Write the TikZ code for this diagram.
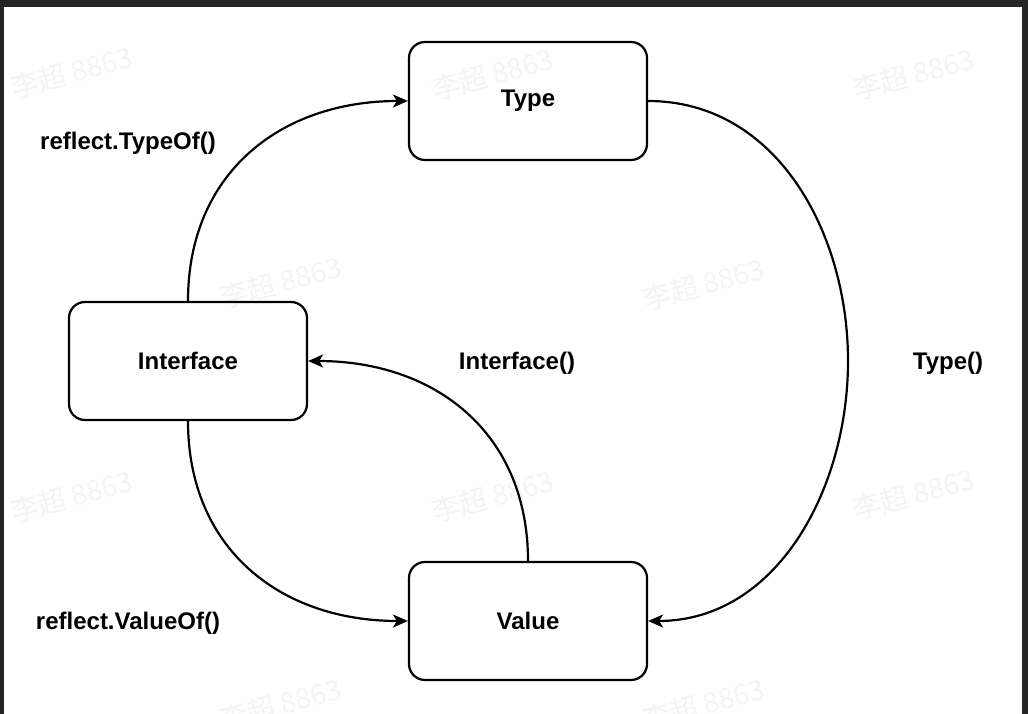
\documentclass[tikz,border=0pt]{standalone}
\usepackage{fontspec}
\setmainfont{Liberation Sans}
\newfontfamily\cjk{Noto Sans CJK SC}
\usepackage{tikz}
\usetikzlibrary{arrows.meta}

\definecolor{frame}{HTML}{252525}
\definecolor{wmgray}{HTML}{F4F4F4}

\begin{document}
\begin{tikzpicture}[x=1pt,y=-1pt,
  box/.style = {draw, line width=2.2pt, rounded corners=16pt, minimum width=238pt, minimum height=118pt, font=\fontsize{24}{28}\selectfont\bfseries},
  lbl/.style = {font=\fontsize{24}{28}\selectfont\bfseries},
  wm/.style = {text=wmgray, rotate=15, font=\cjk\fontsize{28}{32}\selectfont},
  conn/.style = {line width=2.2pt, -{Stealth[length=15pt,width=13pt,inset=4pt]}}]
\clip (0,0) rectangle (1028,714);
% screenshot frame
\fill[frame] (0,0) rectangle (1028,714);
\fill[white] (3.5,7.5) rectangle (1021.5,714);
% watermarks
\foreach \x/\y in {72/72, 493/74, 914/74, 281/282, 704/284, 72/496, 493/496, 914/494, 281/704, 704/704}
  \node[wm] at (\x,\y) {李超 8863};
% boxes
\node[box] (type) at (528,101) {\raisebox{-2pt}{Type}};
\node[box] (iface) at (188,361) {\raisebox{-2pt}{Interface}};
\node[box] (value) at (528,621) {\raisebox{-2pt}{Value}};
\coordinate (bend) at (848,361);
% connectors
\draw[conn] (iface.north) to[out=90,in=180,looseness=1.1] (type.west);
\draw[conn] (type.east) to[out=0,in=90] (bend) to[out=-90,in=0] (value.east);
\draw[conn] (value.north) to[out=90,in=0,looseness=1.1] (iface.east);
\draw[conn] (iface.south) to[out=-90,in=180,looseness=1.1] (value.west);
% labels
\node[lbl] (l1) at (128,143) {reflect.TypeOf()};
\node[lbl] (l2) at (517,363) {Interface()};
\node[lbl] (l3) at (948,363) {Type()};
\node[lbl] (l4) at (128,623) {reflect.ValueOf()};
\end{tikzpicture}
\end{document}
